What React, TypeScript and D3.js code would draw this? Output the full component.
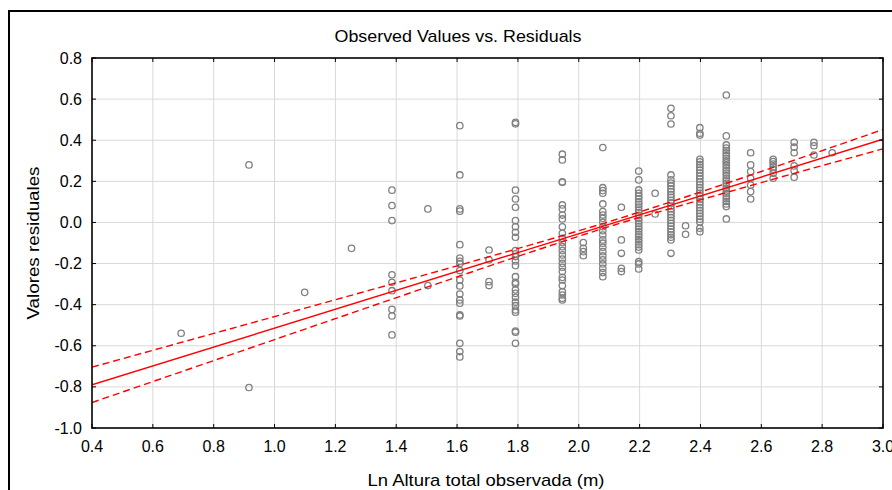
import React from "react";
import * as d3 from "d3";

// ---------- data ----------
const xTicks = [0.4, 0.6, 0.8, 1.0, 1.2, 1.4, 1.6, 1.8, 2.0, 2.2, 2.4, 2.6, 2.8, 3.0];
const yTicks = [0.8, 0.6, 0.4, 0.2, 0.0, -0.2, -0.4, -0.6, -0.8, -1.0];

const lnHeight = [
  0.693, 0.916, 1.099, 1.253, 1.386, 1.504, 1.609, 1.705, 1.792, 1.946, 2.015, 2.079,
  2.14, 2.197, 2.251, 2.303, 2.351, 2.398, 2.485, 2.565, 2.639, 2.708, 2.773, 2.833,
];

const residuals: number[][] = [
  [-0.539],
  [0.28, -0.803],
  [-0.34],
  [-0.126],
  [0.157, 0.082, 0.009, -0.255, -0.291, -0.332, -0.423, -0.455, -0.547],
  [0.066, -0.307],
  [0.471, 0.231, 0.066, 0.055, -0.108, -0.173, -0.189, -0.2, -0.234, -0.28, -0.309, -0.348, -0.377, -0.393, -0.45, -0.455, -0.588, -0.628, -0.654],
  [-0.134, -0.182, -0.288, -0.307],
  [0.487, 0.48, 0.157, 0.114, 0.074, 0.009, -0.021, -0.048, -0.072, -0.137, -0.153, -0.166, -0.187, -0.21, -0.264, -0.291, -0.299, -0.328, -0.345, -0.364, -0.388, -0.405, -0.426, -0.437, -0.528, -0.534, -0.588],
  [0.332, 0.304, 0.198, 0.195, 0.085, 0.066, 0.036, 0.017, -0.021, -0.053, -0.077, -0.098, -0.118, -0.137, -0.158, -0.178, -0.199, -0.218, -0.239, -0.267, -0.28, -0.307, -0.337, -0.353, -0.369, -0.377],
  [-0.098, -0.126, -0.142, -0.162],
  [0.364, 0.169, 0.155, 0.142, 0.09, 0.053, 0.036, 0.02, 0.001, -0.021, -0.04, -0.061, -0.085, -0.101, -0.121, -0.142, -0.163, -0.182, -0.202, -0.223, -0.244, -0.264],
  [0.074, -0.085, -0.15, -0.223, -0.239],
  [0.25, 0.207, 0.158, 0.142, 0.128, 0.115, 0.1, 0.088, 0.075, 0.06, 0.048, 0.035, 0.02, 0.008, -0.005, -0.02, -0.032, -0.045, -0.058, -0.07, -0.083, -0.095, -0.108, -0.12, -0.134, -0.191, -0.202, -0.226],
  [0.142, 0.041],
  [0.555, 0.519, 0.479, 0.231, 0.207, 0.192, 0.178, 0.163, 0.15, 0.136, 0.122, 0.108, 0.095, 0.08, 0.066, 0.052, 0.038, 0.024, 0.01, -0.004, -0.018, -0.032, -0.046, -0.06, -0.072, -0.085, -0.15],
  [-0.016, -0.058],
  [0.461, 0.434, 0.425, 0.307, 0.295, 0.282, 0.268, 0.255, 0.24, 0.226, 0.212, 0.198, 0.184, 0.17, 0.156, 0.142, 0.128, 0.114, 0.1, 0.086, 0.072, 0.058, 0.044, 0.03, 0.016, 0.002, -0.028, -0.045],
  [0.62, 0.421, 0.377, 0.362, 0.35, 0.338, 0.325, 0.312, 0.3, 0.29, 0.278, 0.265, 0.252, 0.24, 0.228, 0.215, 0.202, 0.19, 0.178, 0.165, 0.152, 0.14, 0.128, 0.115, 0.102, 0.09, 0.077, 0.017],
  [0.339, 0.28, 0.247, 0.215, 0.182, 0.15, 0.114],
  [0.307, 0.296, 0.284, 0.271, 0.259, 0.239, 0.215],
  [0.39, 0.366, 0.339, 0.275, 0.252, 0.22],
  [0.39, 0.373, 0.328],
  [0.339],
];

const fitX = [0.4, 3.0];
const fitY = [-0.79, 0.405];

const ciX = [0.4, 0.8, 1.2, 1.6, 1.9, 2.1, 2.3, 2.6, 3.0];
const ciUpper = [-0.704, -0.54, -0.376, -0.211, -0.084, 0.004, 0.099, 0.248, 0.452];
const ciLower = [-0.876, -0.672, -0.468, -0.265, -0.116, -0.02, 0.067, 0.194, 0.358];

// ---------- layout ----------
const W = 892;
const H = 490;
const L = 92;
const R = 883;
const T = 58;
const B = 428;

export default function App() {
  const x = d3.scaleLinear().domain([0.4, 3.0]).range([L, R]);
  const y = d3.scaleLinear().domain([-1.0, 0.8]).range([B, T]);

  const points: { x: number; y: number }[] = [];
  lnHeight.forEach((h, i) => {
    residuals[i].forEach((r) => points.push({ x: h, y: r }));
  });

  const line = d3
    .line<[number, number]>()
    .x((d) => x(d[0]))
    .y((d) => y(d[1]));
  const curve = d3
    .line<[number, number]>()
    .x((d) => x(d[0]))
    .y((d) => y(d[1]))
    .curve(d3.curveMonotoneX);

  const fitPath = line(fitX.map((v, i) => [v, fitY[i]] as [number, number])) || "";
  const upPath = curve(ciX.map((v, i) => [v, ciUpper[i]] as [number, number])) || "";
  const loPath = curve(ciX.map((v, i) => [v, ciLower[i]] as [number, number])) || "";

  const font = "'Liberation Sans', Arial, sans-serif";
  const tickLen = 4;

  return (
    <svg
      width={W}
      height={H}
      style={{ position: "absolute", left: 0, top: 0, background: "#fff" }}
      fontFamily={font}
    >
      <rect x={0} y={0} width={W} height={H} fill="#fff" />
      {/* outer frame */}
      <rect x={9} y={11} width={W + 20} height={H + 20} fill="none" stroke="#000" strokeWidth={2} />

      <defs>
        <clipPath id="plotClip">
          <rect x={L} y={T} width={R - L} height={B - T} />
        </clipPath>
      </defs>

      {/* grid */}
      {xTicks.slice(1, -1).map((t) => (
        <line key={"gx" + t} x1={x(t)} x2={x(t)} y1={T} y2={B} stroke="#d9d9d9" strokeWidth={1} />
      ))}
      {yTicks.slice(1, -1).map((t) => (
        <line key={"gy" + t} x1={L} x2={R} y1={y(t)} y2={y(t)} stroke="#d9d9d9" strokeWidth={1} />
      ))}

      {/* points */}
      <g clipPath="url(#plotClip)">
        {points.map((p, i) => (
          <circle key={i} cx={x(p.x)} cy={y(p.y)} r={3.2} fill="none" stroke="#808080" strokeWidth={1.3} />
        ))}
        <path d={fitPath} fill="none" stroke="#ff0000" strokeWidth={1.4} />
        <path d={upPath} fill="none" stroke="#ff0000" strokeWidth={1.4} strokeDasharray="7,4" />
        <path d={loPath} fill="none" stroke="#ff0000" strokeWidth={1.4} strokeDasharray="7,4" />
      </g>

      {/* ticks */}
      {xTicks.map((t) => (
        <g key={"tx" + t}>
          <line x1={x(t)} x2={x(t)} y1={B} y2={B - tickLen} stroke="#000" strokeWidth={1} />
          <line x1={x(t)} x2={x(t)} y1={T} y2={T + tickLen} stroke="#000" strokeWidth={1} />
          <text x={x(t)} y={446} fontSize={16} textAnchor="middle" dominantBaseline="central" fill="#000">
            {t.toFixed(1)}
          </text>
        </g>
      ))}
      {yTicks.map((t) => (
        <g key={"ty" + t}>
          <line x1={L} x2={L + tickLen} y1={y(t)} y2={y(t)} stroke="#000" strokeWidth={1} />
          <line x1={R} x2={R - tickLen} y1={y(t)} y2={y(t)} stroke="#000" strokeWidth={1} />
          <text x={82} y={y(t)} fontSize={16} textAnchor="end" dominantBaseline="central" fill="#000">
            {t.toFixed(1)}
          </text>
        </g>
      ))}

      {/* plot frame */}
      <rect x={L} y={T} width={R - L} height={B - T} fill="none" stroke="#000" strokeWidth={1.6} />

      {/* titles */}
      <text x={458} y={36} fontSize={17} textAnchor="middle" dominantBaseline="central" textLength={247} lengthAdjust="spacingAndGlyphs">
        Observed Values vs. Residuals
      </text>
      <text x={486} y={480} fontSize={17} textAnchor="middle" dominantBaseline="central" textLength={237} lengthAdjust="spacingAndGlyphs">
        Ln Altura total observada (m)
      </text>
      <text
        transform={`translate(33,243) rotate(-90)`}
        fontSize={17}
        textAnchor="middle"
        dominantBaseline="central"
        textLength={153}
        lengthAdjust="spacingAndGlyphs"
      >
        Valores residuales
      </text>
    </svg>
  );
}
